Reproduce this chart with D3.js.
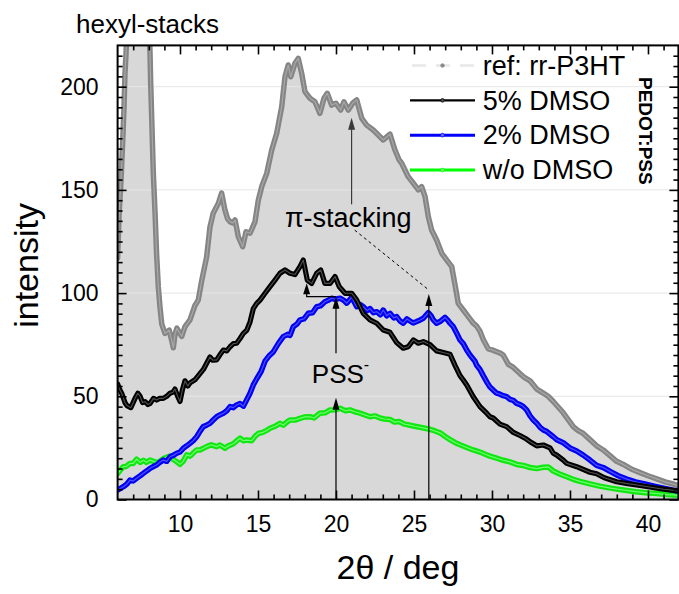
<!DOCTYPE html>
<html>
<head>
<meta charset="utf-8">
<script src="https://cdn.jsdelivr.net/npm/d3@7/dist/d3.min.js"></script>
<style>
  html, body { margin: 0; padding: 0; background: #fff; }
  svg { display: block; }
  text { font-family: "Liberation Sans", Arial, Helvetica, sans-serif; fill: #000; }
</style>
</head>
<body>
<svg id="chart" width="679" height="594"></svg>
<script>
// ---------------- DATA ----------------
const xDomain = [6, 41.95];
const yDomain = [0, 220];
const xMajorTicks = [10, 15, 20, 25, 30, 35, 40];
const yMajorTicks = [0, 50, 100, 150, 200];
const gridValues = [50, 100, 150, 200];

const seriesNames = ["ref: rr-P3HT", "5% DMSO", "2% DMSO", "w/o DMSO"];

// ref: rr-P3HT  [2theta, intensity]
const refData = [
  [6.0,117],[6.1,139],[6.22,155],[6.33,174],[6.41,190],[6.47,206],[6.54,216],[6.7,250],[7.0,290],
  [7.5,300],[7.8,280],[8.0,235],[8.08,216],[8.12,202],[8.19,184],[8.29,158],[8.4,139],[8.5,119],
  [8.61,103],[8.72,93],[8.83,85],[9.04,80.5],[9.31,82],[9.47,77],[9.57,73.5],[9.68,80],[9.8,83],
  [9.95,81],[10.11,79],[10.32,83.7],[10.64,87],[10.96,94],[11.17,96.6],[11.39,106],[11.71,117.6],
  [11.92,132],[12.13,138.7],[12.46,143.5],[12.67,148.4],[12.88,140.3],[13.05,136],[13.21,134.6],
  [13.38,134],[13.53,135.4],[13.74,127.3],[14.02,122.5],[14.23,129.7],[14.49,129],[14.81,134.6],
  [15.02,145],[15.24,151.6],[15.56,158],[15.88,169.3],[16.2,177.4],[16.52,190.3],[16.73,204.8],
  [16.94,210.5],[17.1,204.8],[17.37,211.3],[17.58,213.7],[17.8,206.5],[18.01,197.6],[18.33,194.4],
  [18.65,192.7],[18.97,187.1],[19.23,194.4],[19.44,196.8],[19.72,191.1],[20.0,192],[20.3,188.7],
  [20.51,192.7],[20.79,188.7],[21.07,192],[21.33,193.6],[21.65,184.7],[21.97,181.4],[22.39,179],
  [22.71,176.6],[23.03,174.2],[23.46,177],[23.78,169.3],[24.05,164.5],[24.21,162.9],[24.63,156.4],
  [24.96,153.2],[25.28,150],[25.49,151.6],[25.71,146.7],[25.92,137],[26.13,130.6],[26.45,125.7],
  [26.78,119.3],[27.1,116],[27.42,112.8],[27.63,104],[27.84,95],[28.16,91.8],[28.59,87.5],
  [28.8,85.4],[29.02,84],[29.23,81.5],[29.44,77.5],[29.76,73],[30.0,72.5],[30.51,71],[30.72,70],
  [31.05,65.5],[31.37,64],[31.79,61],[32.1,59],[32.44,57.5],[32.87,53.5],[33.29,51.5],[33.6,50],
  [33.93,47.5],[34.57,42],[35.0,37.5],[35.21,35.3],[35.5,33.5],[35.85,32],[36.28,29],[36.71,26],
  [37.13,24],[37.6,21],[37.99,18.5],[38.42,17],[39.0,14.5],[39.49,13],[40.0,11.5],[40.56,10],
  [41.1,8.5],[41.62,7.5],[42.0,6.5]
];

// 5% DMSO
const dmso5Data = [
  [6.0,56],[6.15,53],[6.26,51.5],[6.47,47],[6.6,45.5],[6.85,44.5],[7.12,49],[7.3,51.5],[7.44,50],
  [7.6,47],[7.76,47.4],[7.95,46],[8.08,46.5],[8.3,49],[8.5,48.2],[8.7,49],[8.93,49],[9.15,50],
  [9.36,51.5],[9.55,52],[9.68,53.5],[9.85,50],[10.0,47.5],[10.15,53],[10.32,57.5],[10.5,55],
  [10.64,56.5],[10.96,58],[11.28,61],[11.5,63],[11.71,66],[11.92,69],[12.1,67.5],[12.35,67.6],
  [12.55,70],[12.78,72.4],[13.0,72],[13.21,74],[13.42,75.5],[13.63,75.7],[13.85,78],[14.06,80.5],
  [14.28,82],[14.49,86],[14.7,92.5],[14.92,95],[15.13,96.6],[15.45,99.9],[15.77,103.1],
  [16.09,106.3],[16.41,109.6],[16.73,111.2],[17.05,109.6],[17.37,109],[17.69,112.8],[17.9,116],
  [18.16,106.3],[18.44,104.7],[18.76,109.6],[19.02,111.2],[19.29,104.7],[19.62,104.7],[19.94,108],
  [20.21,103.1],[20.58,99.9],[21.01,99.9],[21.33,96.6],[21.75,90.2],[22.18,87],[22.61,85.4],
  [23.03,82.1],[23.46,81],[23.89,76],[24.31,73.3],[24.63,74],[24.96,77.3],[25.28,75.7],[25.6,76.5],
  [26.03,75],[26.45,72],[26.88,71.2],[27.31,70.4],[27.63,65],[27.95,60],[28.16,57.9],[28.38,55.5],
  [28.8,49.8],[29.23,45],[29.66,41.8],[29.87,40.1],[30.08,39.5],[30.51,36.5],[30.94,35.3],
  [31.37,32.5],[31.79,31],[32.12,29.7],[32.44,28],[32.87,26],[33.29,26.4],[33.72,25],[33.93,22.4],
  [34.15,21.5],[34.57,19.1],[34.79,17.5],[35.43,15.9],[36.28,13.2],[36.71,12.5],[37.2,10.5],
  [37.99,8.6],[38.6,7.8],[39.49,6.8],[40.3,5.8],[41.0,5],[41.62,4.5],[42.0,4]
];

// 2% DMSO
const dmso2Data = [
  [6.0,4.6],[6.37,6.2],[6.6,7.5],[6.79,9.4],[7.0,9],[7.22,10.3],[7.45,11.5],[7.65,12.7],[7.9,14],
  [8.08,15.1],[8.3,16],[8.5,16.7],[8.7,18],[8.93,19.1],[9.15,18.5],[9.36,20.7],[9.6,21.5],
  [9.79,22.4],[10.0,23],[10.21,24.8],[10.43,26],[10.64,27.2],[10.85,28.5],[11.07,30.4],[11.28,33],
  [11.49,35.3],[11.7,36],[11.92,36.9],[12.13,38.5],[12.35,40.1],[12.56,41],[12.78,41.8],[13.0,43],
  [13.21,45],[13.42,44.5],[13.63,45.8],[13.85,46.5],[14.06,45.2],[14.27,48.2],[14.49,51.5],
  [14.7,55.5],[14.92,58.5],[15.2,62],[15.45,67],[15.7,69.5],[15.98,71.5],[16.3,75.5],[16.62,78.9],
  [16.9,80],[17.05,79.5],[17.26,83.7],[17.5,85],[17.69,87],[17.95,87.5],[18.22,90.2],[18.5,90.5],
  [18.76,93.4],[19.0,93.8],[19.29,95.8],[19.5,96.5],[19.72,97.5],[19.95,97],[20.26,97.5],
  [20.5,96.5],[20.69,95.1],[21.01,98],[21.33,93.4],[21.55,94.5],[21.75,93.4],[22.0,91.5],
  [22.18,92.5],[22.4,90.5],[22.61,91],[22.85,89.5],[23.03,91.8],[23.25,89],[23.46,90.2],[23.7,88],
  [23.89,88.6],[24.1,86.5],[24.31,85.4],[24.55,87.5],[24.74,86.5],[24.95,85.5],[25.17,86.2],
  [25.4,87],[25.6,87.8],[25.92,90.5],[26.1,89],[26.24,87],[26.45,85.4],[26.67,86.2],[26.99,88.2],
  [27.15,87],[27.31,85.4],[27.52,83.7],[27.74,80.5],[27.95,77.3],[28.16,75.5],[28.38,72.4],
  [28.59,70],[28.91,67],[29.02,65],[29.23,63],[29.44,60],[29.7,56.5],[29.87,54.5],[30.08,53],
  [30.3,51.5],[30.51,51],[30.72,50.3],[30.94,49.8],[31.15,48.5],[31.37,48],[31.58,46.6],[31.8,46],
  [32.01,45],[32.22,43.4],[32.44,40.5],[32.65,38.5],[32.87,36.9],[33.08,35],[33.29,33.7],[33.5,33],
  [33.93,30.4],[34.15,29],[34.57,27.5],[35.0,25],[35.43,23.5],[35.85,21.5],[36.28,19.1],
  [36.71,16.5],[37.13,15.5],[37.6,13.5],[38.1,11.5],[38.6,10],[39.2,8.5],[39.8,7.5],[40.4,6.5],
  [41.0,5.5],[41.6,4.5],[42.0,4]
];

// w/o DMSO
const dmso0Data = [
  [6.0,12.5],[6.2,14.5],[6.37,15.9],[6.55,16],[6.79,17.5],[7.0,17.5],[7.22,19.5],[7.45,18],
  [7.65,19],[7.85,18],[8.08,19.1],[8.3,18.5],[8.5,17.8],[8.7,18.5],[8.93,19.8],[9.15,20.5],
  [9.36,21],[9.55,19.5],[9.79,18.3],[10.0,17],[10.2,18.5],[10.43,21.6],[10.65,21],[10.85,22.5],
  [11.07,24],[11.28,24],[11.5,24.8],[11.71,25.6],[12.0,26.5],[12.35,25.6],[12.56,26.4],
  [12.88,24.8],[13.1,26],[13.42,27],[13.65,28.5],[13.85,29.7],[14.05,28.5],[14.27,28.8],
  [14.6,28.5],[14.8,30.5],[15.02,32],[15.3,32.5],[15.56,33.5],[15.77,34.5],[16.1,35.5],
  [16.41,36.9],[16.62,36],[16.85,37.5],[17.05,38.5],[17.37,38.5],[17.69,39.3],[18.0,40],
  [18.33,40.1],[18.6,39.5],[18.97,41.8],[19.3,42],[19.62,43.4],[20.0,43.5],[20.26,44.2],[20.6,43],
  [20.9,43.4],[21.2,42.5],[21.54,41.8],[21.85,41],[22.18,40.1],[22.5,40.5],[22.82,39.5],[23.1,39],
  [23.46,38.8],[23.75,37.5],[24.05,37.8],[24.4,36.5],[24.74,36],[25.05,35.5],[25.38,35],[25.7,34.5],
  [26.03,34],[26.35,33.2],[26.67,32.3],[27.0,30.5],[27.31,29],[27.65,27.5],[27.95,26.5],
  [28.38,25.2],[28.8,24],[29.23,23],[29.6,21.8],[29.87,21],[30.3,20],[30.72,19],[31.15,18.2],
  [31.58,17],[32.0,16.5],[32.44,15.5],[32.87,15],[33.29,15.6],[33.6,15.8],[33.93,13.8],[34.3,12.5],
  [34.79,11],[35.2,9.8],[35.64,8.8],[36.28,7.6],[36.9,6.5],[37.6,5.5],[38.42,4.6],[39.2,3.8],
  [40.0,3.2],[40.56,2.9],[41.2,2.4],[41.62,2.2],[42.0,2]
];

// annotation anchor points (data coordinates)
const piArrow = [[21.0, 143], [21.0, 185]];
const piDash = [[21.2, 130.5], [25.95, 101.5]];
const arrow26 = [[25.95, 0], [25.95, 99.6]];
const pssArrowLow = [[20.0, 0], [20.0, 49.3]];
const pssArrowUp = [[20.0, 70.8], [20.0, 98.2]];
const bracket = [[20.0, 98.3], [18.12, 98.3], [18.12, 104.8]];
const piLabelPos = [16.73, 132.2];
const pssLabelPos = [18.45, 56.3];

// ---------------- CHART ----------------
const svg = d3.select("#chart");
const x = d3.scaleLinear().domain(xDomain).range([117.6, 678.4]);
const y = d3.scaleLinear().domain(yDomain).range([499.5, 45.4]);
const [X0, X1] = x.range();
const [Y0, Y1] = y.range();

svg.append("defs").append("clipPath").attr("id", "plotclip")
  .append("rect").attr("x", X0).attr("y", Y1).attr("width", X1 - X0).attr("height", Y0 - Y1);

const plot = svg.append("g").attr("clip-path", "url(#plotclip)");

// grey area under the reference curve
plot.append("path").datum(refData)
  .attr("d", d3.area().x(d => x(d[0])).y0(y(0)).y1(d => y(d[1])))
  .attr("fill", "#d8d8d8");

// horizontal grid
plot.selectAll("line.grid").data(gridValues).join("line")
  .attr("class", "grid")
  .attr("x1", X0).attr("x2", X1)
  .attr("y1", d => y(d)).attr("y2", d => y(d))
  .attr("stroke", "#e6e6e6").attr("stroke-width", 1);

const line = d3.line().x(d => x(d[0])).y(d => y(d[1]));

function drawSeries(data, outer, inner, wOuter, wInner) {
  plot.append("path").datum(data).attr("d", line)
    .attr("fill", "none").attr("stroke", outer).attr("stroke-width", wOuter)
    .attr("stroke-linejoin", "round").attr("stroke-linecap", "round");
  plot.append("path").datum(data).attr("d", line)
    .attr("fill", "none").attr("stroke", inner).attr("stroke-width", wInner)
    .attr("stroke-linejoin", "round");
}

drawSeries(refData, "#858585", "#a8a8a8", 5.5, 1.2);
drawSeries(dmso0Data, "#10e610", "#70ff70", 5.5, 1.2);
drawSeries(dmso2Data, "#0000f5", "#5050ff", 5.5, 1.2);
drawSeries(dmso5Data, "#000000", "#505050", 5.2, 1.1);

// ---------------- ANNOTATIONS ----------------
const ann = svg.append("g");
function arrow(pts, color) {
  const p0 = [x(pts[0][0]), y(pts[0][1])];
  const p1 = [x(pts[1][0]), y(pts[1][1])];
  ann.append("line").attr("x1", p0[0]).attr("y1", p0[1]).attr("x2", p1[0]).attr("y2", p1[1] + 8)
    .attr("stroke", color).attr("stroke-width", 1.2);
  ann.append("path")
    .attr("d", `M${p1[0]},${p1[1]} L${p1[0] - 3.5},${p1[1] + 12} L${p1[0] + 3.5},${p1[1] + 12} Z`)
    .attr("fill", color);
}
arrow(piArrow, "#3a3a3a");
arrow(arrow26, "#000");
arrow(pssArrowLow, "#000");
arrow(pssArrowUp, "#000");

ann.append("path").datum(piDash).attr("d", line)
  .attr("fill", "none").attr("stroke", "#000").attr("stroke-width", 1)
  .attr("stroke-dasharray", "3,3");

// bracket with small arrow
ann.append("path").datum(bracket.slice(0, 2).concat([[bracket[2][0], bracket[2][1] - 4]]))
  .attr("d", line).attr("fill", "none").attr("stroke", "#000").attr("stroke-width", 1.2);
{
  const bx = x(bracket[2][0]), by = y(bracket[2][1]);
  ann.append("path").attr("d", `M${bx},${by} L${bx - 3.5},${by + 11} L${bx + 3.5},${by + 11} Z`).attr("fill", "#000");
}

ann.append("text").attr("x", x(piLabelPos[0])).attr("y", y(piLabelPos[1]))
  .attr("font-size", 27).text("\u03C0-stacking");

const pss = ann.append("text").attr("x", x(pssLabelPos[0])).attr("y", y(pssLabelPos[1]))
  .attr("font-size", 26);
pss.append("tspan").text("PSS");
pss.append("tspan").attr("font-size", 16).attr("dy", -13).text("-");

// ---------------- AXES ----------------
const axes = svg.append("g");
const minorX = d3.range(7, 42, 1).filter(v => !xMajorTicks.includes(v));
const minorY = d3.range(5, 220, 5).filter(v => !yMajorTicks.includes(v));

function styleAxis(g) {
  g.select(".domain").remove();
  g.selectAll(".tick line").attr("stroke", "#000").attr("stroke-width", 1.6);
  g.selectAll(".tick text").attr("font-size", 23).attr("font-family", '"Liberation Sans", Arial, sans-serif').attr("fill", "#000");
}

// bottom
axes.append("g").attr("transform", `translate(0,${Y0})`)
  .call(d3.axisBottom(x).tickValues(xMajorTicks).tickSize(-9).tickPadding(16).tickFormat(d3.format("d")))
  .call(styleAxis);
axes.append("g").attr("transform", `translate(0,${Y0})`)
  .call(d3.axisBottom(x).tickValues(minorX).tickSize(-5).tickFormat(""))
  .call(styleAxis);
// top
axes.append("g").attr("transform", `translate(0,${Y1})`)
  .call(d3.axisTop(x).tickValues(xMajorTicks).tickSize(-9).tickFormat(""))
  .call(styleAxis);
axes.append("g").attr("transform", `translate(0,${Y1})`)
  .call(d3.axisTop(x).tickValues(minorX).tickSize(-5).tickFormat(""))
  .call(styleAxis);
// left
axes.append("g").attr("transform", `translate(${X0},0)`)
  .call(d3.axisLeft(y).tickValues(yMajorTicks).tickSize(-9).tickPadding(19).tickFormat(d3.format("d")))
  .call(styleAxis);
axes.append("g").attr("transform", `translate(${X0},0)`)
  .call(d3.axisLeft(y).tickValues(minorY).tickSize(-5).tickFormat(""))
  .call(styleAxis);
// right
axes.append("g").attr("transform", `translate(${X1},0)`)
  .call(d3.axisRight(y).tickValues(yMajorTicks).tickSize(-9).tickFormat(""))
  .call(styleAxis);
axes.append("g").attr("transform", `translate(${X1},0)`)
  .call(d3.axisRight(y).tickValues(minorY).tickSize(-5).tickFormat(""))
  .call(styleAxis);

// frame
axes.append("rect").attr("x", X0).attr("y", Y1).attr("width", X1 - X0).attr("height", Y0 - Y1)
  .attr("fill", "none").attr("stroke", "#000").attr("stroke-width", 2);

// ---------------- LEGEND ----------------
const legendColors = [
  { stroke: "#e8e8e8", dash: "14,10", dot: "#8a8a8a", w: 2.5 },
  { stroke: "#000000", dash: null, dot: "#555", w: 2.2 },
  { stroke: "#0000ff", dash: null, dot: "#7777ff", w: 3 },
  { stroke: "#00ff00", dash: null, dot: "#88ff88", w: 3 }
];
const legend = svg.append("g");
const legendY = d3.scaleLinear().domain([0, 3]).range([65.5, 170]);
seriesNames.forEach((name, i) => {
  const ly = legendY(i);
  const st = legendColors[i];
  const l = legend.append("line").attr("x1", 410).attr("x2", 475).attr("y1", ly).attr("y2", ly)
    .attr("stroke", st.stroke).attr("stroke-width", st.w);
  if (st.dash) l.attr("stroke-dasharray", st.dash).attr("stroke-dashoffset", -2);
  legend.append("circle").attr("cx", 442.5).attr("cy", ly).attr("r", 1.8).attr("fill", st.dot)
    .attr("stroke", i === 0 ? "#8a8a8a" : st.stroke).attr("stroke-width", 0.8);
  legend.append("text").attr("x", 482.7).attr("y", ly + 9.3).attr("font-size", 27).text(name);
});

svg.append("text").attr("transform", "translate(638.5,77) rotate(90)")
  .attr("font-size", 19).attr("font-weight", "bold").text("PEDOT:PSS");

// ---------------- TITLES ----------------
svg.append("text").attr("x", 76).attr("y", 33).attr("font-size", 26).text("hexyl-stacks");
svg.append("text").attr("x", (X0 + X1) / 2).attr("y", 579).attr("text-anchor", "middle")
  .attr("font-size", 34).text("2\u03B8 / deg");
svg.append("text").attr("transform", `translate(38,${(Y0 + Y1) / 2 - 7}) rotate(-90)`)
  .attr("text-anchor", "middle").attr("font-size", 34).text("intensity");
</script>
</body>
</html>
